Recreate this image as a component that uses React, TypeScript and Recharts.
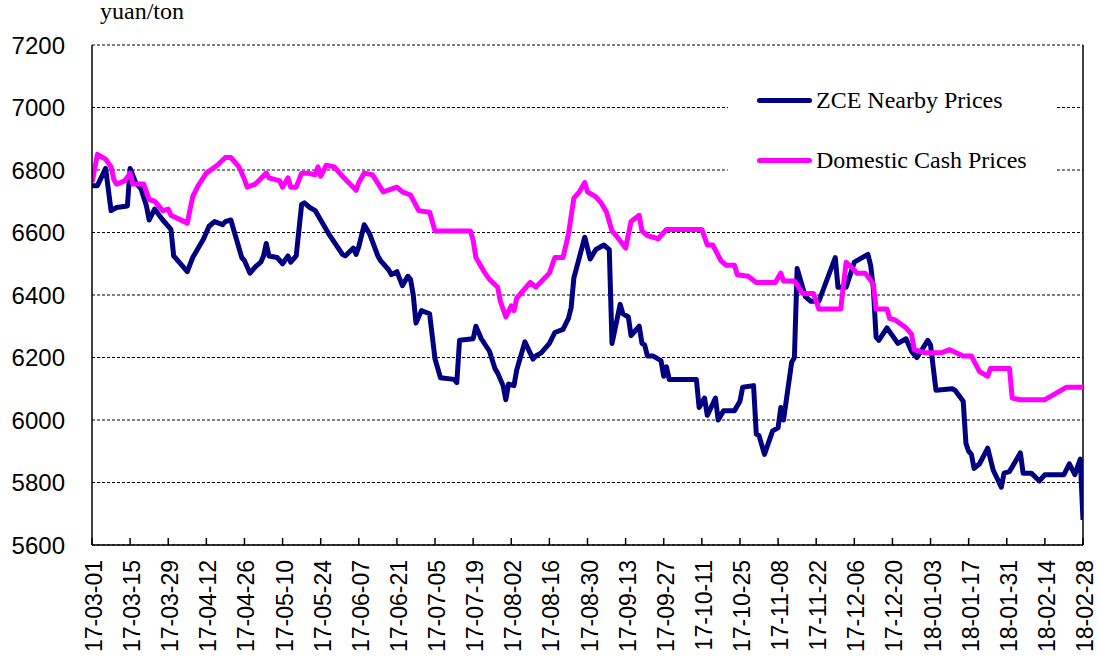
import { LineChart, Line, XAxis, YAxis, CartesianGrid, Legend, ReferenceLine } from "recharts";

// x values are days counted from 2017-03-01
const tickLabels = [
  "17-03-01", "17-03-15", "17-03-29", "17-04-12", "17-04-26", "17-05-10", "17-05-24",
  "17-06-07", "17-06-21", "17-07-05", "17-07-19", "17-08-02", "17-08-16", "17-08-30",
  "17-09-13", "17-09-27", "17-10-11", "17-10-25", "17-11-08", "17-11-22", "17-12-06",
  "17-12-20", "18-01-03", "18-01-17", "18-01-31", "18-02-14", "18-02-28",
];
const yTicks = [5600, 5800, 6000, 6200, 6400, 6600, 6800, 7000, 7200];
const seriesNames = ["ZCE Nearby Prices", "Domestic Cash Prices"];

const zceDays = [
  0, 2, 5, 7, 9, 13, 14, 16, 18, 20, 21, 23, 26, 29, 30, 32, 35, 37, 41, 43, 45, 48, 49, 51,
  55, 56, 58, 60, 62, 63, 64, 65, 68, 70, 72, 73, 75, 77, 78, 80, 82, 84, 87, 92, 93, 96, 97,
  98, 100, 102, 105, 106, 109, 110, 112, 114, 116, 117, 118, 119, 121, 124, 126, 128, 133,
  134, 135, 140, 141, 143, 146, 148, 149, 151, 152, 153, 155, 156, 159, 162, 163, 165, 168,
  170, 173, 175, 176, 177, 181, 183, 185, 188, 190, 191, 194, 195, 197, 198, 201, 202, 203,
  204, 206, 209, 210, 211, 212, 222, 223, 225, 226, 229, 230, 232, 236, 238, 239, 243, 244,
  245, 247, 250, 252, 253, 254, 257, 258, 259, 262, 264, 267, 273, 274, 277, 280, 285, 286,
  287, 288, 289, 292, 294, 296, 299, 301, 303, 307, 308, 310, 316, 317, 320, 321, 322, 323,
  324, 326, 329, 331, 334, 335, 337, 341, 342, 345, 348, 350, 357, 359, 361, 363, 364,
];
const zcePrices = [
  6750, 6750, 6805, 6670, 6680, 6685, 6805, 6760, 6740, 6685, 6640, 6675, 6640, 6610, 6525,
  6505, 6475, 6520, 6580, 6620, 6635, 6625, 6635, 6640, 6520, 6510, 6470, 6490, 6505, 6525,
  6565, 6525, 6520, 6500, 6525, 6505, 6525, 6690, 6695, 6680, 6670, 6640, 6595, 6530, 6525,
  6550, 6530, 6555, 6625, 6595, 6525, 6510, 6480, 6465, 6475, 6430, 6460, 6450, 6400, 6310,
  6350, 6340, 6195, 6135, 6130, 6120, 6255, 6260, 6300, 6260, 6220, 6165, 6150, 6110, 6065,
  6115, 6110, 6160, 6250, 6195, 6205, 6215, 6245, 6280, 6290, 6325, 6360, 6455, 6585, 6515,
  6545, 6560, 6545, 6245, 6370, 6340, 6330, 6270, 6300, 6245, 6240, 6205, 6205, 6190, 6140,
  6170, 6130, 6130, 6040, 6070, 6015, 6070, 6000, 6030, 6030, 6060, 6105, 6110, 5955, 5950,
  5890, 5965, 5975, 6040, 6000, 6185, 6200, 6485, 6395, 6380, 6380, 6520, 6425, 6425, 6505,
  6530, 6495, 6420, 6265, 6255, 6295, 6270, 6245, 6260, 6220, 6200, 6255, 6240, 6095, 6100,
  6095, 6060, 5925, 5900, 5890, 5845, 5860, 5910, 5840, 5785, 5830, 5835, 5895, 5830, 5830,
  5805, 5825, 5825, 5860, 5825, 5875, 5680,
];

const cashDays = [
  0, 2, 5, 7, 8, 9, 12, 14, 15, 19, 21, 23, 26, 28, 29, 35, 37, 39, 42, 46, 49, 51, 54, 56,
  57, 60, 64, 65, 69, 70, 72, 73, 75, 77, 79, 82, 83, 84, 86, 89, 92, 97, 98, 100, 103, 107,
  112, 114, 117, 120, 124, 126, 139, 140, 141, 144, 146, 149, 150, 152, 154, 155, 156, 159,
  161, 163, 168, 170, 173, 175, 177, 179, 181, 182, 185, 187, 189, 191, 193, 196, 198, 201,
  202, 204, 208, 211, 224, 226, 228, 231, 233, 236, 237, 241, 244, 251, 253, 254, 258, 261,
  265, 267, 275, 277, 280, 281, 284, 287, 288, 292, 293, 295, 299, 301, 302, 306, 312, 315,
  320, 323, 326, 329, 330, 337, 338, 341, 350, 358, 364,
];
const cashPrices = [
  6760, 6850, 6835, 6810, 6770, 6755, 6765, 6790, 6755, 6755, 6705, 6700, 6670, 6675, 6655,
  6630, 6715, 6750, 6790, 6815, 6840, 6840, 6810, 6770, 6745, 6755, 6790, 6775, 6765, 6745,
  6775, 6745, 6745, 6790, 6790, 6785, 6810, 6780, 6815, 6810, 6780, 6735, 6760, 6790, 6785,
  6730, 6745, 6730, 6720, 6670, 6665, 6605, 6605, 6575, 6520, 6475, 6450, 6425, 6380, 6330,
  6365, 6350, 6390, 6420, 6440, 6425, 6470, 6520, 6520, 6595, 6710, 6730, 6760, 6730, 6715,
  6695, 6665, 6605, 6585, 6550, 6635, 6655, 6605, 6590, 6580, 6610, 6610, 6560, 6560, 6510,
  6495, 6495, 6465, 6460, 6440, 6440, 6470, 6445, 6445, 6405, 6405, 6355, 6355, 6505, 6480,
  6470, 6470, 6435, 6355, 6355, 6325, 6320, 6295, 6275, 6225, 6215, 6215, 6225, 6205, 6205,
  6155, 6140, 6165, 6165, 6070, 6065, 6065, 6105, 6105,
];

const zceData = zceDays.map((day, i) => ({ day, price: zcePrices[i] }));
const cashData = cashDays.map((day, i) => ({ day, price: cashPrices[i] }));
const tickDays = tickLabels.map((_, i) => i * 14);

const sans = "'Liberation Sans', Arial, sans-serif";
const serif = "'Liberation Serif', 'Times New Roman', serif";

const DateTick = ({ x, y, payload }: any) => {
  const label = tickLabels[Math.round(payload.value / 14)];
  return (
    <g>
      <line x1={x} x2={x} y1={y - 15} y2={y - 22} stroke="#000" strokeWidth={1.5} />
      <text
        transform={`translate(${x + 10},${y}) rotate(-90)`}
        textAnchor="end"
        fontSize={23}
        fontFamily={sans}
        fill="#000"
      >
        {label}
      </text>
    </g>
  );
};

const LegendBox = ({ payload }: any) => {
  const items = [...(payload || [])].sort(
    (a: any, b: any) => seriesNames.indexOf(a.value) - seriesNames.indexOf(b.value)
  );
  return (
    <div style={{ background: "#fff", width: 327, height: 125, paddingLeft: 29, boxSizing: "border-box" }}>
      {items.map((entry: any) => (
        <div key={entry.value} style={{ display: "flex", alignItems: "center", height: 60 }}>
          <span style={{ width: 55, height: 5, borderRadius: 3, background: entry.color, marginRight: 4 }} />
          <span style={{ fontFamily: serif, fontSize: 24, color: "#000" }}>{entry.value}</span>
        </div>
      ))}
    </div>
  );
};

export default function App() {
  return (
    <div style={{ position: "absolute", left: 0, top: 0, width: 1099, height: 661, background: "#fff" }}>
      <div style={{ position: "absolute", left: 100, top: -1, fontFamily: serif, fontSize: 24, lineHeight: 1, color: "#000" }}>
        yuan/ton
      </div>
      <LineChart width={1099} height={661} margin={{ top: 45, right: 16, bottom: 6, left: 12 }}>
        <CartesianGrid vertical={false} stroke="#000" strokeDasharray="3 2" />
        <XAxis
          type="number"
          dataKey="day"
          domain={[0, 364]}
          ticks={tickDays}
          interval={0}
          height={110}
          tickSize={0}
          tickMargin={15}
          tick={<DateTick />}
          axisLine={{ stroke: "#000", strokeWidth: 1.5 }}
          allowDataOverflow
        />
        <YAxis
          domain={[5600, 7200]}
          ticks={yTicks}
          width={80}
          tickSize={0}
          tickMargin={27}
          tickLine={false}
          axisLine={{ stroke: "#000", strokeWidth: 1.5 }}
          tick={{ fill: "#000", fontSize: 24, fontFamily: sans }}
        />
        <ReferenceLine x={364} stroke="#000" strokeWidth={1.5} />
        <Legend
          layout="horizontal"
          verticalAlign="middle"
          align="center"
          content={<LegendBox />}
          wrapperStyle={{ left: 728, top: 70, width: 327, height: 125 }}
        />
        <Line
          data={zceData}
          dataKey="price"
          name={seriesNames[0]}
          type="linear"
          stroke="#000080"
          strokeWidth={5}
          strokeLinejoin="round"
          dot={false}
          isAnimationActive={false}
        />
        <Line
          data={cashData}
          dataKey="price"
          name={seriesNames[1]}
          type="linear"
          stroke="#ff00ff"
          strokeWidth={5}
          strokeLinejoin="round"
          dot={false}
          isAnimationActive={false}
        />
      </LineChart>
    </div>
  );
}
